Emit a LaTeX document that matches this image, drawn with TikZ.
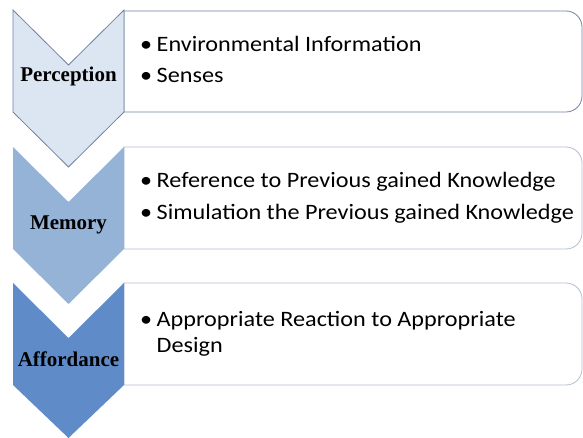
\documentclass[tikz,border=0pt]{standalone}
\usepackage{fontspec}
\newfontfamily\boxfont{Carlito}
\newfontfamily\labfont{Liberation Serif}
\usetikzlibrary{positioning}

\definecolor{chevA}{HTML}{DCE6F2}
\definecolor{chevB}{HTML}{95B3D7}
\definecolor{chevC}{HTML}{5F8CC8}
\definecolor{lineA}{HTML}{6F83A3}
\definecolor{lineB}{HTML}{B3BFD0}

\newcommand{\bul}[1]{\makebox[15pt][l]{\textbullet}#1}

\tikzset{
  chevlabel/.style={font=\labfont\bfseries\fontsize{21}{24}\selectfont, anchor=base, inner sep=0pt},
  itemtext/.style={font=\boxfont\fontsize{22}{26}\selectfont, anchor=base west, inner sep=0pt, align=left, xscale=1.1, transform shape},
  stepbox/.style={line width=0.8pt, fill=white}
}

\begin{document}
\begin{tikzpicture}[x=1pt,y=1pt]
\useasboundingbox (0,0) rectangle (583,438);
% boxes
\draw[stepbox, draw=lineA] (124,326) -- (124,427) -- (566,427) arc[start angle=90, end angle=0, radius=16] -- (582,342) arc[start angle=0, end angle=-90, radius=16] -- cycle;
\draw[stepbox, draw=lineB] (124,189) -- (124,291) -- (566,291) arc[start angle=90, end angle=0, radius=16] -- (582,205) arc[start angle=0, end angle=-90, radius=16] -- cycle;
\draw[stepbox, draw=lineB] (124,53) -- (124,155) -- (566,155) arc[start angle=90, end angle=0, radius=16] -- (582,69) arc[start angle=0, end angle=-90, radius=16] -- cycle;
% chevrons
\filldraw[fill=chevA, draw=lineA, line width=0.8pt] (13,428) -- (68.5,373) -- (124,428) -- (124,326) -- (68.5,271) -- (13,326) -- cycle;
\fill[chevB] (13,291) -- (68.5,236) -- (124,291) -- (124,189) -- (68.5,134) -- (13,189) -- cycle;
\fill[chevC] (13,155) -- (68.5,100) -- (124,155) -- (124,53) -- (68.5,0) -- (13,53) -- cycle;
% labels
\node[chevlabel] (perception) at (68.5,356) {Perception};
\node[chevlabel] (memory) at (68.5,208) {Memory};
\node[chevlabel] (affordance) at (68.5,71) {Affordance};
% items
\node[itemtext] (env) at (140,386) {\bul{Environmental Information}};
\node[itemtext] (senses) at (140,355) {\bul{Senses}};
\node[itemtext] (ref) at (140,250) {\bul{Reference to Previous gained Knowledge}};
\node[itemtext] (sim) at (140,218) {\bul{Simulation the Previous gained Knowledge}};
\node[itemtext] (react) at (140,85) {\bul{Appropriate Reaction to Appropriate}\\\hspace*{15pt}Design};
\end{tikzpicture}
\end{document}
